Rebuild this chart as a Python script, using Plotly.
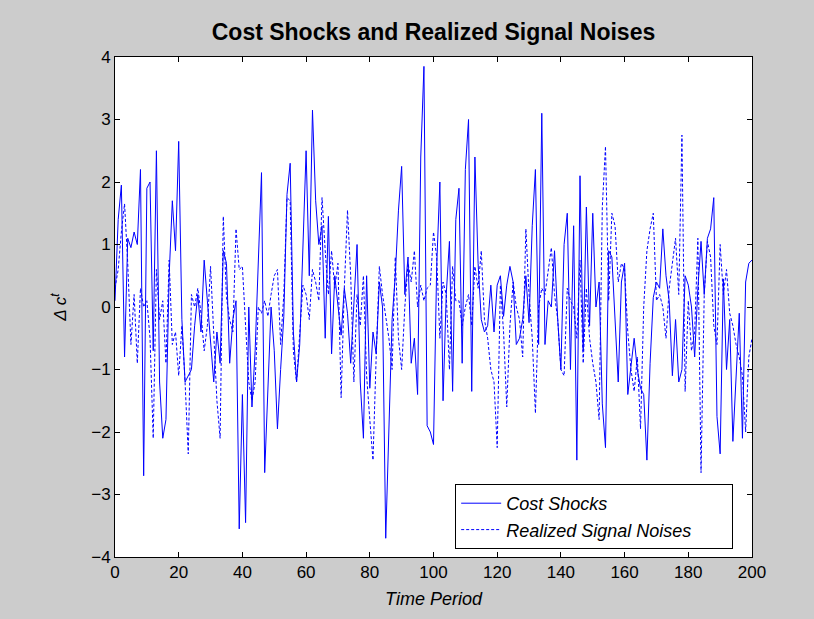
import plotly.graph_objects as go

periods = list(range(0, 201))

cost_shocks = [
    0.1, 1.4, 1.95, -0.8, 1.1, 0.95, 1.2, 1.0, 2.2, -2.7,
    1.9, 2.0, -0.7, 2.5, -1.2, -2.1, -1.8, 0.5, 1.7, 0.9,
    2.65, -0.2, -1.2, -1.1, -1.0, -0.3, 0.2, -0.4, 0.75, 0.1,
    -0.6, -1.2, -0.4, -0.9, 0.9, 0.7, -0.9, -0.2, 0.1, -3.55,
    -1.4, -3.45, 0.0, -1.6, -0.7, 0.9, 2.15, -2.65, -1.2, 0.0,
    -0.7, -1.95, -1.0, -0.15, 1.8, 2.3, -0.4, -1.2, -0.6, 1.0,
    2.5, 0.5, 3.15, 1.7, 1.0, 1.3, -0.5, 1.45, -0.75, 0.5,
    0.0, -0.45, 0.3, -0.1, -0.9, 0.15, 1.0, -1.2, -2.1, 0.5,
    -1.3, -0.4, -0.75, 0.4, 0.0, -3.7, -1.9, -0.2, 0.5, 1.55,
    2.25, 0.2, 0.8, -0.9, -0.5, -1.4, 2.4, 3.85, -1.9, -2.0,
    -2.2, 0.65, 2.0, -1.5, 0.2, 1.05, -1.35, 1.4, 1.9, -0.9,
    2.2, 3.0, -1.35, 2.4, 0.7, -0.2, -0.4, -0.3, 0.35, -0.4,
    0.35, 0.5, -0.15, 0.35, 0.65, 0.4, -0.6, -0.5, -0.2, 0.5,
    -0.25, 1.3, 2.2, -0.6, 3.1, -0.6, 0.1, 0.0, 0.9, -0.2,
    -1.0, 1.0, 1.5, -1.0, 1.3, -2.45, 2.1, -0.7, 1.6, -0.3,
    1.5, 0.0, 0.4, -1.55, -2.25, 0.9, 0.8, -0.3, -1.2, 0.4,
    0.7, -1.4, -0.9, -0.5, -1.0, -1.3, -1.4, -2.45, -0.9, 0.15,
    0.4, 0.3, 1.25, 0.5, 0.1, -1.1, -0.2, -1.2, -1.0, 0.5,
    0.35, 0.0, -0.8, 0.3, 1.05, 0.2, 1.1, 1.25, 1.75, -1.75,
    -2.35, 0.45, -1.0, -0.2, -2.15, -1.0, -0.1, -2.1, 0.4, 0.7,
    0.75,
]

signal_noises = [
    0.3, 0.6, 1.2, 1.65, 0.7, -0.6, 0.2, -0.9, 0.3, 0.0,
    0.1, -0.5, -2.1, 0.6, -0.2, 0.1, -0.9, 0.75, -0.6, -0.4,
    -1.1, -0.3, -1.2, -2.35, 0.2, 0.0, 0.3, -0.1, -0.7, -0.3,
    0.65, -0.5, -1.5, -2.1, 1.45, 0.15, -0.2, -0.4, 1.25, 0.6,
    0.65, -0.3, -1.2, -1.5, -1.2, 0.0, -0.1, 0.1, -0.15, 0.2,
    0.5, 0.6, -0.6, 0.2, 1.75, 1.7, -0.7, -1.2, -0.4, 0.35,
    0.2, -0.2, 0.6, 0.4, 0.1, 1.75, 0.9, 0.2, 0.9, 0.3,
    0.7, -1.45, 0.3, 1.55, 0.5, -1.2, 0.2, -0.3, 0.5, -1.1,
    -1.8, -2.45, -0.8, 0.65, 0.2, -0.15, -0.5, -1.0, 0.8, -0.5,
    -1.0, 0.0, 0.7, 0.4, 0.9, 0.0, 0.35, 0.1, 0.3, 0.35,
    1.2, 0.8, -0.5, 0.4, 0.2, -1.0, 0.65, 0.1, 0.1, -0.3,
    0.0, 0.2, -0.3, 0.65, 0.3, 0.9, -0.2, -0.5, -1.0, -1.2,
    -2.25, 0.35, -0.4, -1.6, -0.3, 0.4, 0.0, -0.2, -0.8, 1.25,
    0.2, -0.5, -1.7, 0.0, 0.3, 0.2, 0.6, 0.95, 0.2, -0.2,
    -1.0, -1.1, 0.3, 0.1, 0.0, -0.5, 0.75, -0.9, 0.3, -0.5,
    -0.9, -1.2, -1.8, 1.6, 2.57, 0.1, 1.5, 1.3, 0.4, 0.7,
    0.6, -0.4, -1.0, -1.35, -0.8, -1.95, 0.0, 0.9, 1.25, 1.5,
    0.1, 0.2, 0.0, -0.5, 0.3, 0.7, 1.1, 0.2, 2.75, -1.35,
    0.1, -0.7, -0.4, 1.1, -2.65, 0.2, 1.05, 0.8, -0.3, -0.6,
    1.0, 0.2, 0.6, -0.1, -0.3, -0.6, -0.8, -1.1, -2.0, -0.8,
    -0.5,
]

x_ticks = [0, 20, 40, 60, 80, 100, 120, 140, 160, 180, 200]
y_ticks = [-4, -3, -2, -1, 0, 1, 2, 3, 4]

fig = go.Figure()
fig.add_trace(go.Scatter(
    x=periods, y=cost_shocks, mode="lines", name="<i>Cost Shocks</i>",
    line=dict(color="#0000ff", width=1),
))
fig.add_trace(go.Scatter(
    x=periods, y=signal_noises, mode="lines",
    name="<i>Realized Signal Noises</i>" + "&nbsp;" * 7,
    line=dict(color="#0000ff", width=1, dash="3px,2px"),
))

axis_common = dict(
    showline=True, linecolor="black", linewidth=1, mirror="ticks",
    ticks="inside", ticklen=5, tickcolor="black", showgrid=False, zeroline=False,
    tickfont=dict(family="Liberation Sans Narrow, Arial, sans-serif", size=17, color="black"),
)

fig.update_layout(
    width=814, height=619,
    paper_bgcolor="#cccccc", plot_bgcolor="white",
    margin=dict(l=115, r=62, t=57, b=62),
    title=dict(text="<b>Cost Shocks and Realized Signal Noises</b>",
               xref="paper", x=0.5, xanchor="center", y=0.949, yanchor="middle",
               font=dict(family="Arial, Liberation Sans, sans-serif", size=23, color="black")),
    xaxis=dict(range=[0, 200], tickvals=x_ticks,
               title=dict(text="<i>Time Period</i>", standoff=10,
                          font=dict(family="Arial, Liberation Sans, sans-serif", size=18, color="black")),
               **axis_common),
    yaxis=dict(range=[-4, 4], tickvals=y_ticks,
               title=dict(text="<i>Δ c<sup>t</sup></i>", standoff=20,
                          font=dict(family="Arial, Liberation Sans, sans-serif", size=17, color="black")),
               **axis_common),
    showlegend=True,
    legend=dict(x=0.534, y=0.016, xanchor="left", yanchor="bottom",
                bgcolor="white", bordercolor="black", borderwidth=1,
                font=dict(family="Arial, Liberation Sans, sans-serif", size=18, color="black"),
                tracegroupgap=0, itemwidth=40),
)

fig.write_html("out.html")
